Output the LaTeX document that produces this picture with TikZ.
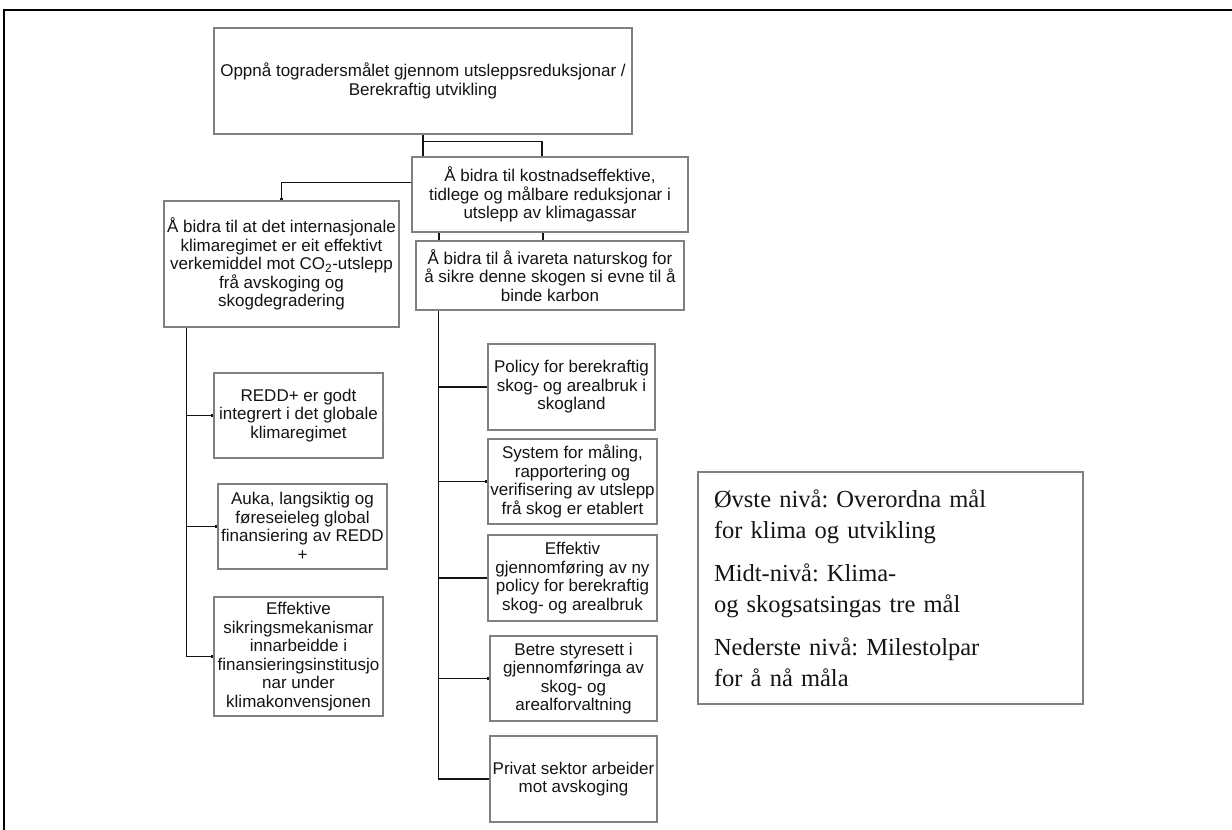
\documentclass[tikz,border=0pt]{standalone}
\usepackage{fontspec}
\newfontfamily\boxfont{Liberation Sans}
\newfontfamily\legendfont{Liberation Serif}
\usetikzlibrary{arrows.meta, backgrounds, calc}
\frenchspacing

\definecolor{boxgray}{RGB}{128,128,128}
\definecolor{inkgray}{RGB}{20,20,20}

\begin{document}
\begin{tikzpicture}[x=1pt, y=-1pt,
	goal/.style={draw=boxgray, line width=1.2pt, fill=white, align=center, inner sep=0pt, text=inkgray, font=\boxfont\fontsize{17}{18.5}\selectfont},
	boxdim/.style 2 args={minimum width=#1pt, minimum height=#2pt},
	link/.style={draw=inkgray, line width=1.4pt, -{Square[length=2.5pt,width=2.5pt]}}
	]
	\useasboundingbox (0,0) rectangle (1232,830);
	\draw[line width=2.5pt] (4,830) -- (4,10) -- (1232,10);		%page frame
	
	%top level
	\node[goal, boxdim={418}{106}] (top) at (423,81) {Oppnå togradersmålet gjennom utsleppsreduksjonar /\\Berekraftig utvikling};
	
	%middle level
	\node[goal, boxdim={235}{126}] (A) at (281.5,264) {Å bidra til at det internasjonale\\klimaregimet er eit effektivt\\verkemiddel mot CO\textsubscript{2}-utslepp\\frå avskoging og\\skogdegradering};
	\node[goal, boxdim={276}{75}] (B) at (550,194.5) {Å bidra til kostnadseffektive,\\tidlege og målbare reduksjonar i\\utslepp av klimagassar};
	\node[goal, boxdim={268}{69}] (C) at (550,275.5) {Å bidra til å ivareta naturskog for\\å sikre denne skogen si evne til å\\binde karbon};
	
	%milestones, left column
	\node[goal, boxdim={169}{85}] (D) at (298.5,415.5) {REDD+ er godt\\integrert i det globale\\klimaregimet};
	\node[goal, boxdim={169}{85}] (E) at (302.5,526.5) {Auka, langsiktig og\\føreseieleg global\\finansiering av REDD\\+};
	\node[goal, boxdim={169}{119}] (F) at (298.5,656.5) {Effektive\\sikringsmekanismar\\innarbeidde i\\finansieringsinstitusjo\\nar under\\klimakonvensjonen};
	
	%milestones, right column
	\node[goal, boxdim={167}{86}] (G) at (571.5,387) {Policy for berekraftig\\skog- og arealbruk i\\skogland};
	\node[goal, boxdim={169}{85}] (H) at (572.5,481.5) {System for måling,\\rapportering og\\verifisering av utslepp\\frå skog er etablert};
	\node[goal, boxdim={169}{86}] (I) at (572.5,578) {Effektiv\\gjennomføring av ny\\policy for berekraftig\\skog- og arealbruk};
	\node[goal, boxdim={167}{85}] (J) at (573.5,678.5) {Betre styresett i\\gjennomføringa av\\skog- og\\arealforvaltning};
	\node[goal, boxdim={167}{86}] (K) at (573.5,779) {Privat sektor arbeider\\mot avskoging};
	
	%legend
	\node[draw=boxgray, line width=1.2pt, text=inkgray, align=left, inner xsep=16pt, inner ysep=0pt, text width=353pt, minimum height=232pt, font=\legendfont\fontsize{24.5}{31.5}\selectfont] (legend) at (890.5,588) {Øvste nivå: Overordna mål\\for klima og utvikling\\[11pt]Midt-nivå: Klima-\\og skogsatsingas tre mål\\[11pt]Nederste nivå: Milestolpar\\for å nå måla};
	
	%connectors
	\begin{scope}[on background layer]
	\draw[link] (top.south) -- ++(0,48) -| (A.north);		%runs behind B
	\draw[link] (top.south) -- ++(0,7) -| ([xshift=-8pt]B.north);
	\draw[link] (top.south) -- ++(0,90) -| ([xshift=-111pt]C.north);	%runs behind B
	\draw[link] ([xshift=-7pt]B.south) -- ([xshift=-7pt]C.north);
	\foreach \m in {D,E,F}
	\draw[link] ($(A.south west)+(23,0)$) |- (\m.west);		%left trunk
	\foreach \m in {G,H,I,J,K}
	\draw[link] ($(C.south west)+(23,0)$) |- (\m.west);		%right trunk
	\end{scope}
\end{tikzpicture}
\end{document}
